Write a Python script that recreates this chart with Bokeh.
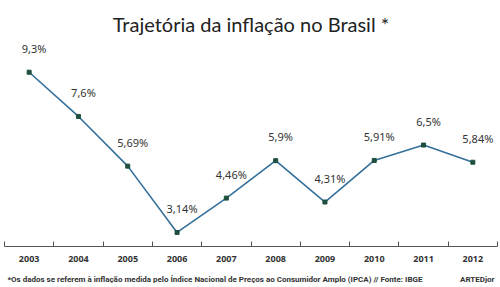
from bokeh.plotting import figure
from bokeh.layouts import column
from bokeh.models import Range1d, FixedTicker, Title, ColumnDataSource
from bokeh.core.properties import value
from bokeh.embed import file_html
from bokeh.resources import INLINE

years = ["2003", "2004", "2005", "2006", "2007", "2008", "2009", "2010", "2011", "2012"]
inflation = [9.3, 7.6, 5.69, 3.14, 4.46, 5.9, 4.31, 5.91, 6.5, 5.84]
labels = ["9,3%", "7,6%", "5,69%", "3,14%", "4,46%", "5,9%", "4,31%", "5,91%", "6,5%", "5,84%"]
title_text = "Trajetória da inflação no Brasil *"
footnote = "*Os dados se referem à inflação medida pelo Índice Nacional de Preços ao Consumidor Amplo (IPCA) // Fonte: IBGE"
credit = "ARTEDjor"

xs = list(range(len(years)))
src = ColumnDataSource(dict(x=xs, y=inflation, lab=labels))

p = figure(width=500, height=265, output_backend="svg", toolbar_location=None,
           x_range=Range1d(-0.5, len(years) - 0.5), y_range=Range1d(2.60, 10.52),
           min_border_left=4, min_border_right=3, min_border_top=40, min_border_bottom=19)
p.outline_line_color = None
p.background_fill_color = "white"
p.border_fill_color = "white"
p.xgrid.visible = False
p.ygrid.visible = False
p.yaxis.visible = False

ax = p.xaxis[0]
ax.ticker = FixedTicker(ticks=xs, minor_ticks=[i - 0.5 for i in range(len(years) + 1)])
ax.major_label_overrides = {i: y for i, y in enumerate(years)}
ax.major_tick_in = 0
ax.major_tick_out = 0
ax.minor_tick_in = 5
ax.minor_tick_out = 0
ax.minor_tick_line_color = "#555555"
ax.axis_line_color = "#555555"
ax.major_label_standoff = 9
ax.major_label_text_font = "Noto Sans"
ax.major_label_text_font_style = "bold"
ax.major_label_text_font_size = "9px"
ax.major_label_text_color = "#333333"

p.line("x", "y", source=src, line_color="#34709a", line_width=1.6)
p.scatter("x", "y", source=src, marker="square", size=4, fill_color="#1f4f3f", line_color="#1f4f3f")
p.text("x", "y", text="lab", source=src, x_offset=5, y_offset=-24,
       text_align="center", text_baseline="middle", text_font_size="11px",
       text_color="#333333", text_font=value("Noto Sans"))

p.add_layout(Title(text=title_text, align="center",
                   text_font="Lato", text_font_size="20px", text_font_style="normal",
                   text_color="#222222"), "above")

# footer strip with the source note and credit
f = figure(width=500, height=22, output_backend="svg", toolbar_location=None,
           x_range=Range1d(0, 500), y_range=Range1d(0, 22), min_border=0)
f.axis.visible = False
f.grid.visible = False
f.outline_line_color = None
f.background_fill_color = "white"
f.border_fill_color = "white"
f.text(x=[3], y=[8.5], text=[footnote], text_align="left", text_baseline="middle",
       text_font=value("Roboto"), text_font_size="8px", text_font_style="bold",
       text_color="#333333")
f.text(x=[497], y=[8.5], text=[credit], text_align="right", text_baseline="middle",
       text_font=value("Roboto"), text_font_size="8px", text_font_style="bold",
       text_color="#333333")

layout = column(p, f, spacing=0)
open("out.html", "w").write(file_html(layout, INLINE))
